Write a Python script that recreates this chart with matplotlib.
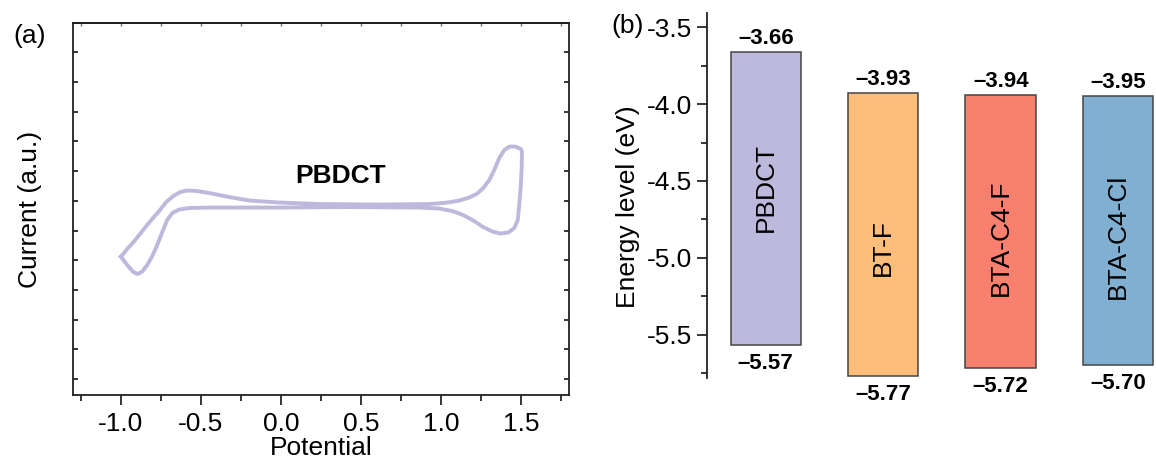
import matplotlib
matplotlib.use('Agg')
import matplotlib.pyplot as plt
from matplotlib import font_manager
from matplotlib.ticker import MultipleLocator, FormatStrFormatter

plt.rcParams['font.family'] = ['Liberation Sans', 'DejaVu Sans']
plt.rcParams['axes.unicode_minus'] = False

# cyclic voltammogram of PBDCT (potential in V, current in arbitrary units)
cv_upper_v = [-1.000, -0.961, -0.911, -0.861, -0.811, -0.761, -0.717, -0.673, -0.629,
              -0.586, -0.536, -0.448, -0.323, -0.198, -0.011, 0.239, 0.614, 0.927,
              1.033, 1.114, 1.177, 1.227, 1.264, 1.302, 1.333, 1.364, 1.396, 1.427,
              1.464, 1.496, 1.506]
cv_upper_i = [4.118, 4.377, 4.680, 5.017, 5.354, 5.657, 5.960, 6.162, 6.296,
              6.347, 6.337, 6.263, 6.128, 6.010, 5.943, 5.892, 5.875, 5.892,
              5.936, 6.010, 6.111, 6.246, 6.431, 6.700, 7.037, 7.441, 7.710, 7.828,
              7.828, 7.761, 7.677]
cv_lower_v = [1.506, 1.505, 1.499, 1.489, 1.480, 1.458, 1.421, 1.371, 1.321, 1.264,
              1.208, 1.139, 1.071, 0.989, 0.864, 0.427, -0.011, -0.448, -0.573,
              -0.636, -0.679, -0.711, -0.742, -0.773, -0.804, -0.836, -0.867,
              -0.895, -0.923, -0.961, -1.000]
cv_lower_i = [7.677, 7.205, 6.532, 5.859, 5.354, 5.084, 4.933, 4.899, 4.966, 5.118,
              5.320, 5.522, 5.657, 5.741, 5.774, 5.791, 5.774, 5.774, 5.758,
              5.707, 5.589, 5.354, 4.949, 4.512, 4.141, 3.838, 3.620,
              3.535, 3.603, 3.838, 4.118]

# frontier orbital energies (eV)
materials = ['PBDCT', 'BT-F', 'BTA-C4-F', 'BTA-C4-Cl']
lumo = [-3.66, -3.93, -3.94, -3.95]
homo = [-5.57, -5.77, -5.72, -5.70]
bar_colors = ['#bdb9dc', '#fdbe7b', '#f97f6f', '#80afd2']
name_y = [-4.54, -4.93, -4.87, -4.86]

names = {f.name for f in font_manager.fontManager.ttflist}
if 'Liberation Sans Narrow' in names:
    val_font, val_size = ['Liberation Sans Narrow', 'DejaVu Sans'], 18
else:
    val_font, val_size = ['Liberation Sans', 'DejaVu Sans'], 16

fs = 19
fig = plt.figure(figsize=(11.56, 4.59), dpi=100)

# (a) CV curve
ax1 = fig.add_axes([0.0631, 0.1394, 0.4291, 0.8105])
ax1.plot(cv_upper_v + cv_lower_v, cv_upper_i + cv_lower_i,
         color='#bdb9dc', lw=2.8, solid_joinstyle='round')
ax1.set_xlim(-1.3, 1.8)
ax1.set_ylim(-0.54, 11.99)
ax1.xaxis.set_major_locator(MultipleLocator(0.5))
ax1.xaxis.set_minor_locator(MultipleLocator(0.25))
ax1.yaxis.set_major_locator(MultipleLocator(1))
ax1.tick_params(axis='x', which='major', direction='out', length=7, width=1.1,
                labelsize=fs, pad=5)
ax1.tick_params(axis='x', which='minor', direction='out', length=4.5, width=1.1)
ax1.tick_params(axis='y', which='major', direction='in', length=3.5, width=1.1,
                left=True, right=True, labelleft=False)
ax1.xaxis.set_major_formatter(FormatStrFormatter('%.1f'))
for s in ax1.spines.values():
    s.set_linewidth(1.3)
    s.set_color('#222222')
top = ax1.secondary_xaxis('top')
top.xaxis.set_major_locator(MultipleLocator(0.25))
top.tick_params(direction='in', length=2.5, width=1, color='0.45', labeltop=False)
top.spines['top'].set_linewidth(1.3)
ax1.set_xlabel('Potential', fontsize=fs, labelpad=0)
ax1.set_ylabel('Current (a.u.)', fontsize=fs)
ax1.yaxis.set_label_coords(-0.062, 0.5)
ax1.text(0.375, 6.83, 'PBDCT', fontsize=fs, fontweight='bold',
         ha='center', va='center')
fig.text(0.0112, 0.921, '(a)', fontsize=fs, va='center')

# (b) energy level diagram
ax2 = fig.add_axes([0.6116, 0.1758, 0.3884, 0.7965])
xs = range(len(materials))
heights = [l - h for l, h in zip(lumo, homo)]
ax2.bar(xs, heights, bottom=homo, width=0.6, color=bar_colors,
        edgecolor='#444444', linewidth=1.1)
ax2.set_xlim(-0.5, 3.322)
ax2.set_ylim(-5.784, -3.405)
for s in ['top', 'right', 'bottom']:
    ax2.spines[s].set_visible(False)
ax2.spines['left'].set_linewidth(1.3)
ax2.spines['left'].set_color('#222222')
ax2.set_xticks([])
ax2.yaxis.set_major_locator(MultipleLocator(0.5))
ax2.yaxis.set_minor_locator(MultipleLocator(0.25))
ax2.yaxis.set_major_formatter(FormatStrFormatter('%.1f'))
ax2.tick_params(axis='y', which='major', direction='out', length=7, width=1.1,
                labelsize=fs, pad=4)
ax2.tick_params(axis='y', which='minor', direction='out', length=4.5, width=1.1)
ax2.set_ylabel('Energy level (eV)', fontsize=fs)
ax2.yaxis.set_label_coords(-0.149, 0.47)

for x, l, h, name, ny in zip(xs, lumo, homo, materials, name_y):
    ax2.annotate('\u2013%.2f' % abs(l), (x, l), xytext=(0, 6),
                 textcoords='offset points', ha='center', va='baseline',
                 fontsize=val_size, fontweight='bold', family=val_font)
    ax2.annotate('\u2013%.2f' % abs(h), (x, h), xytext=(0, -17),
                 textcoords='offset points', ha='center', va='baseline',
                 fontsize=val_size, fontweight='bold', family=val_font)
    ax2.text(x, ny, name, rotation=90, fontsize=fs, ha='center', va='center')
fig.text(0.5285, 0.943, '(b)', fontsize=fs, va='center')

fig.savefig('out.png', dpi=100)
